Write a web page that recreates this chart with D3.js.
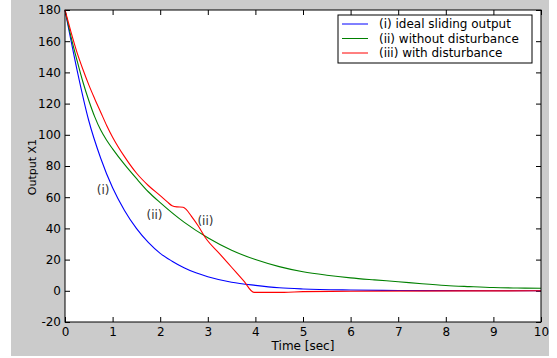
<!DOCTYPE html>
<html>
<head>
<meta charset="utf-8">
<script src="https://cdn.jsdelivr.net/npm/d3@7"></script>
<style>
  html, body { margin: 0; padding: 0; background: #fff; }
  svg { display: block; }
</style>
</head>
<body>
<div id="chart"></div>
<script>
// valori
const xTicks = [0, 1, 2, 3, 4, 5, 6, 7, 8, 9, 10];
const yTicks = [-20, 0, 20, 40, 60, 80, 100, 120, 140, 160, 180];

const idealT = [0, 0.25, 0.5, 0.75, 1, 1.25, 1.5, 1.75, 2, 2.25, 2.5, 2.75, 3, 3.5, 4, 4.5, 5, 6, 7, 8, 10];
const idealV = [180, 142, 109, 85, 66, 51.5, 40, 31, 24, 19, 14.8, 11.5, 9, 5.5, 3.5, 2, 1.2, 0.5, 0.2, 0.1, 0];

const noDistT = [0, 0.125, 0.25, 0.375, 0.5, 0.625, 0.75, 0.875, 1, 1.25, 1.5, 1.75, 2, 2.5, 3, 3.5, 4, 4.5, 5, 5.5, 6, 6.5, 7, 7.5, 8, 8.5, 9, 9.5, 10];
const noDistV = [180, 163, 148, 134, 122, 111.5, 103, 96.5, 91, 81, 72, 63.5, 56.5, 44, 34, 26, 20, 15.5, 12.2, 10, 8.3, 7, 5.8, 4.5, 3.4, 2.7, 2.1, 1.8, 1.6];

const distT = [0, 0.125, 0.25, 0.375, 0.5, 0.625, 0.75, 0.875, 1, 1.25, 1.5, 1.75, 2, 2.15, 2.25, 2.35, 2.48, 2.55, 2.65, 2.8, 2.95, 3.25, 3.5, 3.75, 3.97, 4.6, 5, 6, 10];
const distV = [180, 166, 153, 142, 132, 123, 114.5, 106, 98.5, 86, 75.5, 67.5, 61, 57, 54.5, 53.8, 53.6, 52, 48, 41.5, 34, 23.7, 15.1, 6.5, -1, -1, -0.5, -0.3, 0];

const series = [
  { name: "(i) ideal sliding output", t: idealT, v: idealV, color: "#0000ff" },
  { name: "(ii) without disturbance", t: noDistT, v: noDistV, color: "#008000" },
  { name: "(iii) with disturbance", t: distT, v: distV, color: "#ff0000" }
];

const notes = [
  { label: "(i)", t: 0.8, v: 65 },
  { label: "(ii)", t: 1.88, v: 49 },
  { label: "(ii)", t: 2.95, v: 45 }
];

const width = 557, height = 358;
const font = "'DejaVu Sans', sans-serif";

const svg = d3.select("#chart").append("svg")
  .attr("width", width).attr("height", height);

// sfondo figura grigio
svg.append("rect").attr("x", 11).attr("y", 0).attr("width", 538).attr("height", 356)
  .attr("fill", "#cbcbcb");

const x = d3.scaleLinear().domain([0, 10]).range([65, 541]);
const y = d3.scaleLinear().domain([-20, 180]).range([322, 10]);

svg.append("rect")
  .attr("x", x(0)).attr("y", y(180))
  .attr("width", x(10) - x(0)).attr("height", y(-20) - y(180))
  .attr("fill", "#fff");

// Assi (tick verso l'interno, stile MATLAB)
const fmt = d => String(d);
const gx = svg.append("g").attr("transform", `translate(0,${y(-20)})`)
  .call(d3.axisBottom(x).tickValues(xTicks).tickFormat(fmt).tickSize(-5).tickSizeOuter(0).tickPadding(5));
const gy = svg.append("g").attr("transform", `translate(${x(0)},0)`)
  .call(d3.axisLeft(y).tickValues(yTicks).tickFormat(fmt).tickSize(-5).tickSizeOuter(0).tickPadding(4));
const gt = svg.append("g").attr("transform", `translate(0,${y(180)})`)
  .call(d3.axisTop(x).tickValues(xTicks).tickSize(-5).tickSizeOuter(0).tickFormat(""));
const gr = svg.append("g").attr("transform", `translate(${x(10)},0)`)
  .call(d3.axisRight(y).tickValues(yTicks).tickSize(-5).tickSizeOuter(0).tickFormat(""));

[gx, gy, gt, gr].forEach(g => {
  g.select(".domain").remove();
  g.attr("font-family", font).attr("font-size", 12);
  g.selectAll("text").attr("fill", "#000");
  g.selectAll("line").attr("stroke", "#000");
});

// curve
const line = d3.line().x(d => x(d[0])).y(d => y(d[1])).curve(d3.curveMonotoneX);
series.forEach(s => {
  svg.append("path")
    .datum(s.t.map((t, i) => [t, s.v[i]]))
    .attr("d", line)
    .attr("fill", "none")
    .attr("stroke", s.color)
    .attr("stroke-width", 1.1);
});

// bordo assi
svg.append("rect")
  .attr("x", x(0)).attr("y", y(180))
  .attr("width", x(10) - x(0)).attr("height", y(-20) - y(180))
  .attr("fill", "none").attr("stroke", "#000").attr("stroke-width", 1);

// etichette sulle curve
svg.selectAll(".note").data(notes).enter().append("text")
  .attr("class", "note")
  .attr("x", d => x(d.t)).attr("y", d => y(d.v))
  .attr("text-anchor", "middle").attr("dy", "0.35em")
  .attr("font-family", font).attr("font-size", 12).attr("fill", "#333")
  .text(d => d.label);

// titoli assi
svg.append("text")
  .attr("x", 303).attr("y", 350)
  .attr("text-anchor", "middle")
  .attr("font-family", font).attr("font-size", 12)
  .text("Time [sec]");
svg.append("text")
  .attr("transform", "translate(36,167) rotate(-90)")
  .attr("text-anchor", "middle")
  .attr("font-family", font).attr("font-size", 11)
  .text("Output X1");

// legenda
const leg = svg.append("g");
leg.append("rect").attr("x", 338).attr("y", 15).attr("width", 194).attr("height", 48)
  .attr("fill", "#fff").attr("stroke", "#000");
series.forEach((s, i) => {
  const yy = 24 + i * 14.5;
  leg.append("line").attr("x1", 342).attr("x2", 368).attr("y1", yy).attr("y2", yy)
    .attr("stroke", s.color);
  leg.append("text").attr("x", 379).attr("y", yy).attr("dy", "0.35em")
    .attr("font-family", font).attr("font-size", 12).text(s.name);
});
</script>
</body>
</html>
